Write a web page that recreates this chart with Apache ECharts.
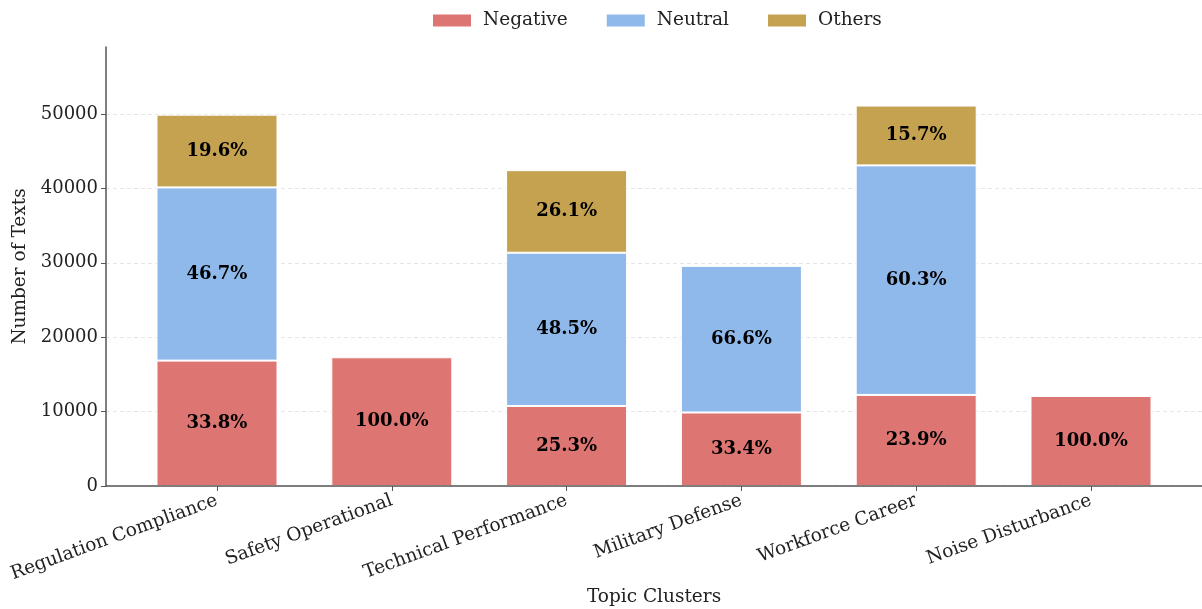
<!DOCTYPE html>
<html><head><meta charset="utf-8">
<script src="https://cdn.jsdelivr.net/npm/echarts@6/dist/echarts.min.js"></script>
<style>html,body{margin:0;padding:0;background:#fff}#c{width:1202px;height:609px}</style>
</head><body><div id="c"></div>
<script>
const categories = ['Regulation Compliance','Safety Operational','Technical Performance','Military Defense','Workforce Career','Noise Disturbance'];
const negative = [16850, 17300, 10750, 9880, 12240, 12100];
const neutral  = [23280, 0, 20600, 19700, 30850, 0];
const others   = [9770, 0, 11100, 0, 8040, 0];
const yTicks = [0, 10000, 20000, 30000, 40000, 50000];

const totals = categories.map((_, i) => negative[i] + neutral[i] + others[i]);
const FONT = '"DejaVu Serif", serif';
const colors = {Negative: '#dd7572', Neutral: '#90b9eb', Others: '#c4a250'};
const Y_MAX = 59000;

function mk(name, arr) {
  return {
    name, type: 'bar', stack: 'all', barWidth: 121, xAxisIndex: 1, yAxisIndex: 1,
    itemStyle: {color: colors[name], borderColor: '#fff', borderWidth: 1},
    data: arr.map(v => (v > 0 ? v : null)),
    label: {
      show: true, position: 'inside', color: '#000', fontFamily: FONT, fontWeight: 'bold', fontSize: 18,
      formatter: p => (p.value ? (p.value / totals[p.dataIndex] * 100).toFixed(1) + '%' : '')
    }
  };
}

const chart = echarts.init(document.getElementById('c'));
chart.setOption({
  animation: false,
  textStyle: {fontFamily: FONT},
  legend: {
    top: 6, left: 426, itemWidth: 40, itemHeight: 14, itemGap: 37, icon: 'rect',
    textStyle: {fontFamily: FONT, fontSize: 18.5, color: '#222', padding: [0, 0, 0, 6]},
    data: ['Negative', 'Neutral', 'Others']
  },
  grid: [
    {left: 106, right: 0, top: 47, bottom: 123, containLabel: false, outerBoundsMode: 'none'},
    {left: 129.6, right: 23.6, top: 47, bottom: 123, containLabel: false, outerBoundsMode: 'none'}
  ],
  xAxis: [
    {
      type: 'value', gridIndex: 0, min: 0, max: 1,
      name: 'Topic Clusters', nameLocation: 'middle', nameGap: 102,
      nameTextStyle: {fontFamily: FONT, fontSize: 18.5, color: '#222'},
      axisLine: {show: true, onZero: false, lineStyle: {color: '#555', width: 1.5}},
      axisTick: {show: false}, axisLabel: {show: false}, splitLine: {show: false}, z: 5
    },
    {
      type: 'category', gridIndex: 1, data: categories,
      axisLine: {show: false},
      axisTick: {show: true, alignWithLabel: true, length: 5, lineStyle: {color: '#555'}},
      axisLabel: {rotate: 20, margin: 14, fontFamily: FONT, fontSize: 18.5, color: '#222', interval: 0},
      splitLine: {show: false}
    }
  ],
  yAxis: [
    {
      type: 'value', gridIndex: 0, min: 0, max: Y_MAX,
      name: 'Number of Texts', nameLocation: 'middle', nameGap: 72,
      nameTextStyle: {fontFamily: FONT, fontSize: 18.5, color: '#222'},
      axisLine: {show: true, onZero: false, lineStyle: {color: '#555', width: 1.5}},
      axisTick: {show: true, customValues: yTicks, length: 5, lineStyle: {color: '#555'}},
      axisLabel: {customValues: yTicks, margin: 8, fontFamily: FONT, fontSize: 18, color: '#222',
        formatter: v => String(v)},
      splitLine: {show: true, lineStyle: {color: '#e6e6e6', type: [4, 3], width: 1}}
    },
    {
      type: 'value', gridIndex: 1, min: 0, max: Y_MAX,
      axisLine: {show: false}, axisTick: {show: false}, axisLabel: {show: false}, splitLine: {show: false}
    }
  ],
  series: [mk('Negative', negative), mk('Neutral', neutral), mk('Others', others)]
});
</script></body></html>
